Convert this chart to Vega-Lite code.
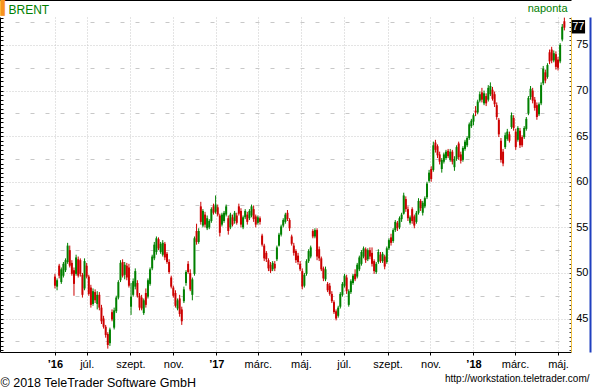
{
"$schema": "https://vega.github.io/schema/vega-lite/v6.json",
"width": 571, "height": 335,
"autosize": "none",
"padding": {"left": 0, "top": 17, "right": 21, "bottom": 38},
"background": "white",
"config": {"view": {"stroke": null}, "font": "Liberation Sans"},
"datasets": {
"last": [{"d": "2018-05-10", "v": 77}],
"brent": [
{"d":"2016-05-17","o":49.6,"h":49.9,"l":48.3,"c":48.6},
{"d":"2016-05-20","o":48.5,"h":49.4,"l":48.1,"c":49.2},
{"d":"2016-05-23","o":50.8,"h":51.0,"l":49.4,"c":49.7},
{"d":"2016-05-26","o":49.0,"h":50.6,"l":48.8,"c":50.4},
{"d":"2016-05-29","o":49.7,"h":51.2,"l":49.5,"c":51.0},
{"d":"2016-06-01","o":50.3,"h":51.6,"l":50.1,"c":51.4},
{"d":"2016-06-04","o":51.2,"h":53.3,"l":51.0,"c":53.0},
{"d":"2016-06-07","o":52.5,"h":53.0,"l":50.6,"c":50.8},
{"d":"2016-06-10","o":51.1,"h":51.4,"l":49.7,"c":49.9},
{"d":"2016-06-13","o":50.3,"h":50.6,"l":47.5,"c":48.8},
{"d":"2016-06-16","o":49.9,"h":52.0,"l":49.7,"c":51.7},
{"d":"2016-06-19","o":51.5,"h":51.8,"l":49.5,"c":49.7},
{"d":"2016-06-22","o":51.4,"h":51.6,"l":49.6,"c":49.9},
{"d":"2016-06-25","o":49.8,"h":50.0,"l":47.3,"c":47.6},
{"d":"2016-06-28","o":48.3,"h":51.6,"l":48.1,"c":51.3},
{"d":"2016-07-01","o":50.8,"h":51.1,"l":49.4,"c":49.6},
{"d":"2016-07-04","o":49.6,"h":49.8,"l":47.5,"c":47.7},
{"d":"2016-07-07","o":48.4,"h":48.7,"l":46.2,"c":46.5},
{"d":"2016-07-10","o":46.6,"h":48.3,"l":46.4,"c":48.0},
{"d":"2016-07-13","o":47.9,"h":48.2,"l":46.7,"c":47.0},
{"d":"2016-07-16","o":46.6,"h":48.0,"l":46.0,"c":47.6},
{"d":"2016-07-19","o":47.6,"h":47.9,"l":45.9,"c":46.2},
{"d":"2016-07-22","o":46.2,"h":46.5,"l":44.4,"c":44.7},
{"d":"2016-07-25","o":45.0,"h":45.3,"l":43.9,"c":44.1},
{"d":"2016-07-28","o":44.1,"h":44.3,"l":42.9,"c":43.2},
{"d":"2016-07-31","o":43.3,"h":43.5,"l":41.7,"c":42.1},
{"d":"2016-08-03","o":42.3,"h":44.0,"l":42.0,"c":43.8},
{"d":"2016-08-06","o":45.7,"h":46.0,"l":44.7,"c":44.9},
{"d":"2016-08-09","o":44.0,"h":46.2,"l":43.8,"c":45.9},
{"d":"2016-08-12","o":45.8,"h":47.5,"l":45.6,"c":47.3},
{"d":"2016-08-15","o":47.3,"h":49.2,"l":47.1,"c":49.0},
{"d":"2016-08-18","o":49.2,"h":51.4,"l":49.0,"c":51.1},
{"d":"2016-08-21","o":51.2,"h":51.5,"l":49.5,"c":49.7},
{"d":"2016-08-24","o":49.8,"h":51.2,"l":49.3,"c":50.9},
{"d":"2016-08-27","o":50.8,"h":51.1,"l":49.2,"c":49.5},
{"d":"2016-08-30","o":50.6,"h":51.0,"l":48.4,"c":48.6},
{"d":"2016-09-02","o":46.3,"h":48.9,"l":45.4,"c":47.4},
{"d":"2016-09-05","o":47.6,"h":49.4,"l":47.4,"c":49.1},
{"d":"2016-09-08","o":48.5,"h":50.5,"l":48.2,"c":50.2},
{"d":"2016-09-11","o":48.9,"h":49.2,"l":47.3,"c":47.5},
{"d":"2016-09-14","o":47.5,"h":47.8,"l":45.9,"c":46.2},
{"d":"2016-09-17","o":47.3,"h":47.6,"l":45.9,"c":46.1},
{"d":"2016-09-20","o":45.6,"h":47.2,"l":45.4,"c":47.0},
{"d":"2016-09-23","o":47.8,"h":48.3,"l":46.2,"c":46.5},
{"d":"2016-09-26","o":47.4,"h":49.4,"l":47.2,"c":49.2},
{"d":"2016-09-29","o":48.8,"h":50.6,"l":48.6,"c":50.4},
{"d":"2016-10-02","o":50.5,"h":52.0,"l":50.3,"c":51.8},
{"d":"2016-10-05","o":51.6,"h":53.4,"l":51.4,"c":53.1},
{"d":"2016-10-08","o":52.3,"h":54.0,"l":52.0,"c":53.8},
{"d":"2016-10-11","o":53.7,"h":53.9,"l":52.5,"c":52.7},
{"d":"2016-10-14","o":52.3,"h":53.4,"l":52.1,"c":53.2},
{"d":"2016-10-17","o":52.0,"h":53.6,"l":51.8,"c":53.3},
{"d":"2016-10-20","o":53.2,"h":53.4,"l":51.4,"c":51.7},
{"d":"2016-10-23","o":52.1,"h":52.3,"l":51.0,"c":51.2},
{"d":"2016-10-26","o":51.2,"h":51.5,"l":49.9,"c":50.1},
{"d":"2016-10-29","o":49.5,"h":49.7,"l":48.3,"c":48.5},
{"d":"2016-11-01","o":48.4,"h":48.6,"l":47.3,"c":47.5},
{"d":"2016-11-04","o":47.8,"h":48.1,"l":46.2,"c":46.4},
{"d":"2016-11-07","o":46.1,"h":47.2,"l":45.9,"c":47.0},
{"d":"2016-11-10","o":47.2,"h":47.6,"l":45.2,"c":45.5},
{"d":"2016-11-13","o":46.0,"h":46.3,"l":44.3,"c":44.7},
{"d":"2016-11-16","o":46.9,"h":48.5,"l":46.7,"c":48.2},
{"d":"2016-11-19","o":48.9,"h":50.3,"l":48.6,"c":50.1},
{"d":"2016-11-22","o":51.0,"h":51.3,"l":49.9,"c":50.1},
{"d":"2016-11-25","o":50.0,"h":50.4,"l":48.0,"c":48.2},
{"d":"2016-11-28","o":47.6,"h":49.5,"l":47.0,"c":49.3},
{"d":"2016-12-01","o":49.9,"h":54.0,"l":49.7,"c":53.8},
{"d":"2016-12-04","o":54.6,"h":55.4,"l":53.1,"c":53.4},
{"d":"2016-12-07","o":53.4,"h":54.9,"l":53.2,"c":54.6},
{"d":"2016-12-10","o":57.3,"h":57.8,"l":55.3,"c":55.6},
{"d":"2016-12-13","o":55.2,"h":57.0,"l":55.0,"c":56.8},
{"d":"2016-12-16","o":56.4,"h":56.7,"l":55.0,"c":55.3},
{"d":"2016-12-19","o":54.9,"h":56.3,"l":54.7,"c":56.0},
{"d":"2016-12-22","o":55.0,"h":55.9,"l":54.8,"c":55.7},
{"d":"2016-12-25","o":55.7,"h":57.2,"l":55.5,"c":57.0},
{"d":"2016-12-28","o":57.3,"h":57.6,"l":56.4,"c":56.6},
{"d":"2016-12-31","o":56.7,"h":58.5,"l":56.5,"c":57.5},
{"d":"2017-01-03","o":57.2,"h":57.5,"l":56.2,"c":56.4},
{"d":"2017-01-06","o":56.3,"h":56.5,"l":54.0,"c":54.4},
{"d":"2017-01-09","o":55.3,"h":56.6,"l":55.1,"c":56.4},
{"d":"2017-01-12","o":55.7,"h":56.8,"l":55.5,"c":56.6},
{"d":"2017-01-15","o":56.4,"h":57.5,"l":56.2,"c":57.3},
{"d":"2017-01-18","o":56.0,"h":56.3,"l":54.2,"c":54.6},
{"d":"2017-01-21","o":55.0,"h":56.6,"l":54.8,"c":56.4},
{"d":"2017-01-24","o":56.1,"h":56.4,"l":55.1,"c":55.3},
{"d":"2017-01-27","o":55.7,"h":56.8,"l":55.4,"c":56.6},
{"d":"2017-01-30","o":56.3,"h":56.6,"l":55.3,"c":55.5},
{"d":"2017-02-02","o":57.3,"h":57.6,"l":56.3,"c":56.5},
{"d":"2017-02-05","o":56.8,"h":57.1,"l":55.0,"c":55.3},
{"d":"2017-02-08","o":55.0,"h":56.3,"l":54.8,"c":56.1},
{"d":"2017-02-11","o":56.1,"h":57.0,"l":55.9,"c":56.8},
{"d":"2017-02-14","o":56.4,"h":56.7,"l":55.3,"c":55.6},
{"d":"2017-02-17","o":56.0,"h":57.0,"l":55.8,"c":56.8},
{"d":"2017-02-20","o":56.3,"h":57.5,"l":56.1,"c":57.3},
{"d":"2017-02-23","o":57.0,"h":57.4,"l":55.6,"c":55.9},
{"d":"2017-02-26","o":56.2,"h":56.4,"l":55.0,"c":55.3},
{"d":"2017-03-01","o":55.5,"h":56.3,"l":55.3,"c":56.1},
{"d":"2017-03-04","o":56.0,"h":56.2,"l":55.3,"c":55.6},
{"d":"2017-03-07","o":54.1,"h":54.3,"l":52.9,"c":53.1},
{"d":"2017-03-10","o":53.0,"h":53.2,"l":51.3,"c":51.6},
{"d":"2017-03-13","o":52.2,"h":52.4,"l":51.2,"c":51.5},
{"d":"2017-03-16","o":51.4,"h":51.6,"l":50.2,"c":50.5},
{"d":"2017-03-19","o":50.9,"h":51.2,"l":50.0,"c":50.2},
{"d":"2017-03-22","o":50.4,"h":51.3,"l":50.2,"c":51.1},
{"d":"2017-03-25","o":51.0,"h":51.3,"l":50.2,"c":50.5},
{"d":"2017-03-28","o":51.5,"h":53.0,"l":51.3,"c":52.8},
{"d":"2017-03-31","o":53.0,"h":54.4,"l":52.9,"c":54.2},
{"d":"2017-04-03","o":54.2,"h":55.3,"l":54.0,"c":55.1},
{"d":"2017-04-06","o":55.2,"h":56.0,"l":55.0,"c":55.8},
{"d":"2017-04-09","o":55.6,"h":56.6,"l":55.4,"c":56.4},
{"d":"2017-04-12","o":56.6,"h":56.9,"l":55.7,"c":55.9},
{"d":"2017-04-15","o":55.8,"h":56.0,"l":54.6,"c":54.9},
{"d":"2017-04-18","o":54.0,"h":54.2,"l":53.0,"c":53.2},
{"d":"2017-04-21","o":53.0,"h":53.3,"l":51.9,"c":52.2},
{"d":"2017-04-24","o":52.4,"h":52.6,"l":51.1,"c":51.4},
{"d":"2017-04-27","o":51.9,"h":52.2,"l":50.9,"c":51.2},
{"d":"2017-04-30","o":51.0,"h":51.3,"l":50.2,"c":50.4},
{"d":"2017-05-03","o":50.2,"h":50.5,"l":48.2,"c":48.5},
{"d":"2017-05-06","o":48.6,"h":50.0,"l":48.4,"c":49.8},
{"d":"2017-05-09","o":49.9,"h":51.5,"l":49.7,"c":51.3},
{"d":"2017-05-12","o":51.3,"h":52.6,"l":51.1,"c":52.4},
{"d":"2017-05-15","o":51.8,"h":53.0,"l":51.6,"c":52.8},
{"d":"2017-05-18","o":54.6,"h":54.8,"l":53.8,"c":54.0},
{"d":"2017-05-21","o":54.0,"h":54.9,"l":53.8,"c":54.7},
{"d":"2017-05-24","o":54.7,"h":54.9,"l":51.4,"c":51.8},
{"d":"2017-05-27","o":52.6,"h":52.9,"l":51.3,"c":51.6},
{"d":"2017-05-30","o":51.6,"h":51.8,"l":50.2,"c":50.4},
{"d":"2017-06-02","o":50.5,"h":50.7,"l":49.1,"c":49.4},
{"d":"2017-06-05","o":49.3,"h":50.7,"l":49.1,"c":50.4},
{"d":"2017-06-08","o":48.8,"h":49.0,"l":47.9,"c":48.1},
{"d":"2017-06-11","o":48.6,"h":48.9,"l":47.5,"c":47.7},
{"d":"2017-06-14","o":47.7,"h":48.0,"l":46.7,"c":46.9},
{"d":"2017-06-17","o":46.8,"h":47.0,"l":45.5,"c":45.7},
{"d":"2017-06-20","o":45.8,"h":46.0,"l":44.8,"c":45.0},
{"d":"2017-06-23","o":45.3,"h":46.4,"l":45.1,"c":46.2},
{"d":"2017-06-26","o":46.3,"h":47.9,"l":46.1,"c":47.7},
{"d":"2017-06-29","o":47.6,"h":49.0,"l":47.4,"c":48.8},
{"d":"2017-07-02","o":48.6,"h":49.9,"l":48.4,"c":49.7},
{"d":"2017-07-05","o":49.5,"h":49.8,"l":47.7,"c":48.0},
{"d":"2017-07-08","o":46.5,"h":48.2,"l":46.3,"c":48.0},
{"d":"2017-07-11","o":47.9,"h":49.3,"l":47.7,"c":49.1},
{"d":"2017-07-14","o":48.9,"h":49.9,"l":48.7,"c":49.7},
{"d":"2017-07-17","o":49.9,"h":50.4,"l":49.1,"c":49.3},
{"d":"2017-07-20","o":49.6,"h":51.1,"l":49.4,"c":50.9},
{"d":"2017-07-23","o":50.4,"h":51.9,"l":50.2,"c":51.7},
{"d":"2017-07-26","o":51.0,"h":52.5,"l":50.8,"c":52.3},
{"d":"2017-07-29","o":51.8,"h":52.9,"l":51.6,"c":52.7},
{"d":"2017-08-01","o":52.6,"h":52.8,"l":51.1,"c":51.4},
{"d":"2017-08-04","o":51.5,"h":52.7,"l":51.3,"c":52.5},
{"d":"2017-08-07","o":52.5,"h":52.8,"l":51.5,"c":51.8},
{"d":"2017-08-10","o":52.2,"h":52.8,"l":50.7,"c":51.0},
{"d":"2017-08-13","o":51.3,"h":51.5,"l":49.9,"c":50.2},
{"d":"2017-08-16","o":50.1,"h":51.2,"l":49.9,"c":51.0},
{"d":"2017-08-19","o":51.2,"h":52.6,"l":51.0,"c":52.3},
{"d":"2017-08-22","o":52.0,"h":52.3,"l":51.1,"c":51.3},
{"d":"2017-08-25","o":51.3,"h":52.3,"l":51.1,"c":52.1},
{"d":"2017-08-28","o":51.8,"h":52.0,"l":50.4,"c":50.7},
{"d":"2017-08-31","o":51.2,"h":52.9,"l":51.0,"c":52.7},
{"d":"2017-09-03","o":52.7,"h":53.8,"l":52.5,"c":53.6},
{"d":"2017-09-06","o":53.9,"h":54.3,"l":53.0,"c":53.3},
{"d":"2017-09-09","o":53.5,"h":54.9,"l":53.3,"c":54.7},
{"d":"2017-09-12","o":54.7,"h":55.8,"l":54.5,"c":55.6},
{"d":"2017-09-15","o":55.5,"h":55.7,"l":54.6,"c":54.9},
{"d":"2017-09-18","o":55.0,"h":56.2,"l":54.8,"c":56.0},
{"d":"2017-09-21","o":55.9,"h":56.6,"l":55.6,"c":56.4},
{"d":"2017-09-24","o":56.5,"h":58.8,"l":56.4,"c":58.5},
{"d":"2017-09-27","o":58.1,"h":58.4,"l":56.7,"c":57.0},
{"d":"2017-09-30","o":57.0,"h":57.3,"l":55.7,"c":56.0},
{"d":"2017-10-03","o":55.5,"h":56.3,"l":55.3,"c":56.1},
{"d":"2017-10-06","o":57.0,"h":57.2,"l":55.4,"c":55.7},
{"d":"2017-10-09","o":56.2,"h":56.4,"l":54.9,"c":55.2},
{"d":"2017-10-12","o":55.6,"h":56.8,"l":55.4,"c":56.6},
{"d":"2017-10-15","o":56.6,"h":58.2,"l":56.4,"c":57.9},
{"d":"2017-10-18","o":57.9,"h":58.1,"l":56.8,"c":57.1},
{"d":"2017-10-21","o":56.6,"h":57.9,"l":56.3,"c":57.7},
{"d":"2017-10-24","o":57.3,"h":58.4,"l":57.1,"c":58.2},
{"d":"2017-10-27","o":58.3,"h":60.0,"l":58.1,"c":59.8},
{"d":"2017-10-30","o":60.1,"h":61.3,"l":59.9,"c":61.0},
{"d":"2017-11-02","o":61.4,"h":61.7,"l":60.0,"c":60.3},
{"d":"2017-11-05","o":61.3,"h":64.4,"l":61.1,"c":64.0},
{"d":"2017-11-08","o":64.3,"h":64.6,"l":63.2,"c":63.5},
{"d":"2017-11-11","o":63.9,"h":64.1,"l":62.6,"c":62.9},
{"d":"2017-11-14","o":63.0,"h":63.3,"l":61.9,"c":62.2},
{"d":"2017-11-17","o":61.4,"h":62.6,"l":61.0,"c":62.4},
{"d":"2017-11-20","o":62.2,"h":63.2,"l":62.0,"c":63.0},
{"d":"2017-11-23","o":62.6,"h":63.5,"l":62.4,"c":63.3},
{"d":"2017-11-26","o":63.4,"h":63.6,"l":62.6,"c":62.8},
{"d":"2017-11-29","o":62.4,"h":63.6,"l":62.2,"c":63.3},
{"d":"2017-12-02","o":63.3,"h":63.5,"l":61.9,"c":62.2},
{"d":"2017-12-05","o":61.6,"h":62.8,"l":61.2,"c":62.5},
{"d":"2017-12-08","o":62.5,"h":64.0,"l":62.3,"c":63.8},
{"d":"2017-12-11","o":64.2,"h":64.4,"l":62.4,"c":62.7},
{"d":"2017-12-14","o":63.0,"h":63.3,"l":62.0,"c":62.3},
{"d":"2017-12-17","o":62.4,"h":63.9,"l":62.2,"c":63.7},
{"d":"2017-12-20","o":63.6,"h":64.6,"l":63.4,"c":64.4},
{"d":"2017-12-23","o":64.0,"h":65.0,"l":63.8,"c":64.8},
{"d":"2017-12-26","o":64.8,"h":66.5,"l":64.6,"c":66.3},
{"d":"2017-12-29","o":66.1,"h":66.9,"l":65.9,"c":66.7},
{"d":"2018-01-01","o":66.6,"h":67.5,"l":66.2,"c":67.3},
{"d":"2018-01-04","o":67.8,"h":68.3,"l":67.2,"c":67.6},
{"d":"2018-01-07","o":67.6,"h":69.0,"l":67.4,"c":68.8},
{"d":"2018-01-10","o":68.9,"h":69.9,"l":68.7,"c":69.6},
{"d":"2018-01-13","o":69.8,"h":70.3,"l":68.7,"c":69.0},
{"d":"2018-01-16","o":68.6,"h":70.0,"l":68.4,"c":69.7},
{"d":"2018-01-19","o":69.4,"h":69.7,"l":68.3,"c":68.6},
{"d":"2018-01-22","o":69.0,"h":70.6,"l":68.8,"c":70.3},
{"d":"2018-01-25","o":69.6,"h":70.9,"l":69.4,"c":70.5},
{"d":"2018-01-28","o":70.1,"h":70.4,"l":68.9,"c":69.1},
{"d":"2018-01-31","o":69.6,"h":69.9,"l":68.2,"c":68.5},
{"d":"2018-02-03","o":68.4,"h":68.7,"l":66.8,"c":67.1},
{"d":"2018-02-06","o":66.8,"h":67.0,"l":64.9,"c":65.2},
{"d":"2018-02-09","o":64.5,"h":64.8,"l":62.1,"c":62.4},
{"d":"2018-02-12","o":63.3,"h":63.6,"l":61.7,"c":62.0},
{"d":"2018-02-15","o":63.8,"h":65.4,"l":63.6,"c":65.1},
{"d":"2018-02-18","o":64.7,"h":65.8,"l":64.5,"c":65.5},
{"d":"2018-02-21","o":65.2,"h":65.5,"l":64.3,"c":64.5},
{"d":"2018-02-24","o":66.0,"h":67.6,"l":65.8,"c":67.3},
{"d":"2018-02-27","o":67.0,"h":67.3,"l":65.6,"c":65.9},
{"d":"2018-03-02","o":65.5,"h":65.8,"l":63.5,"c":63.8},
{"d":"2018-03-05","o":64.6,"h":66.1,"l":64.4,"c":65.9},
{"d":"2018-03-08","o":65.6,"h":65.9,"l":63.7,"c":64.0},
{"d":"2018-03-11","o":64.9,"h":65.1,"l":63.8,"c":64.0},
{"d":"2018-03-14","o":64.9,"h":66.1,"l":64.7,"c":65.9},
{"d":"2018-03-17","o":65.8,"h":67.1,"l":65.6,"c":66.9},
{"d":"2018-03-20","o":67.5,"h":69.4,"l":67.3,"c":69.2},
{"d":"2018-03-23","o":69.3,"h":70.5,"l":69.0,"c":70.2},
{"d":"2018-03-26","o":70.0,"h":70.3,"l":68.6,"c":68.9},
{"d":"2018-03-29","o":69.0,"h":69.3,"l":67.8,"c":68.1},
{"d":"2018-04-01","o":68.4,"h":68.7,"l":66.8,"c":67.1},
{"d":"2018-04-04","o":67.4,"h":68.7,"l":67.2,"c":68.5},
{"d":"2018-04-07","o":68.6,"h":70.9,"l":68.4,"c":70.6},
{"d":"2018-04-10","o":70.8,"h":72.7,"l":70.6,"c":72.4},
{"d":"2018-04-13","o":72.0,"h":72.3,"l":70.8,"c":71.1},
{"d":"2018-04-16","o":71.5,"h":73.0,"l":71.3,"c":72.8},
{"d":"2018-04-19","o":74.2,"h":74.5,"l":72.9,"c":73.2},
{"d":"2018-04-22","o":74.5,"h":74.8,"l":73.0,"c":73.3},
{"d":"2018-04-25","o":73.3,"h":74.4,"l":73.1,"c":74.1},
{"d":"2018-04-28","o":74.0,"h":74.3,"l":72.3,"c":72.6},
{"d":"2018-05-01","o":73.4,"h":73.7,"l":72.2,"c":72.5},
{"d":"2018-05-04","o":73.2,"h":75.2,"l":73.0,"c":75.0},
{"d":"2018-05-07","o":75.6,"h":77.3,"l":75.4,"c":77.0},
{"d":"2018-05-10","o":77.6,"h":78.0,"l":76.6,"c":76.9}
]
},
"resolve": {"axis": {"x": "independent", "y": "independent"}},
"layer": [
{
"data": {"name": "brent"},
"mark": {"type": "rule", "strokeWidth": 1},
"encoding": {
"x": {"field": "d", "type": "temporal",
 "scale": {"type": "utc", "nice": false, "domain": [{"year": 2016, "month": 2, "date": 29, "utc": true}, {"year": 2018, "month": 5, "date": 19, "hours": 10, "utc": true}]},
 "axis": {"orient": "bottom",
  "values": [{"year":2016,"month":5,"date":17,"utc":true},{"year":2016,"month":7,"date":1,"utc":true},{"year":2016,"month":9,"date":1,"utc":true},{"year":2016,"month":11,"date":1,"utc":true},{"year":2017,"month":1,"date":1,"utc":true},{"year":2017,"month":3,"date":1,"utc":true},{"year":2017,"month":5,"date":1,"utc":true},{"year":2017,"month":7,"date":1,"utc":true},{"year":2017,"month":9,"date":1,"utc":true},{"year":2017,"month":11,"date":1,"utc":true},{"year":2018,"month":1,"date":1,"utc":true},{"year":2018,"month":3,"date":1,"utc":true},{"year":2018,"month":5,"date":1,"utc":true}],
  "labelExpr": "(utcmonth(datum.value) == 0 || utcdate(datum.value) == 17) ? '’' + utcFormat(datum.value, '%y') : ['', '', 'márc.', '', 'máj.', '', 'júl.', '', 'szept.', '', 'nov.', ''][utcmonth(datum.value)]",
  "labelFontWeight": {"condition": {"test": "utcmonth(datum.value) == 0 || utcdate(datum.value) == 17", "value": "bold"}, "value": "normal"},
  "labelFont": "Liberation Sans", "labelFontSize": 11, "labelColor": "black",
  "labelBaseline": "alphabetic", "labelPadding": 12, "labelAlign": "center", "labelOverlap": false, "labelFlush": false, "labelBound": false,
  "domain": true, "domainColor": "black", "domainWidth": 1,
  "ticks": true, "tickColor": "black", "tickSize": 3,
  "grid": true, "gridColor": "#c8c8c8", "gridDash": [1, 2], "gridWidth": 1,
  "title": "© 2018 TeleTrader Software GmbH", "titleFont": "Liberation Sans", "titleFontSize": 12.5, "titleFontWeight": "normal", "titleColor": "black",
  "titleX": 0, "titleY": 34, "titleAlign": "left", "titleBaseline": "alphabetic", "titleAnchor": "start"}},
"y": {"field": "l", "type": "quantitative",
 "scale": {"domain": [41.33, 78.07], "nice": false, "zero": false},
 "axis": {"orient": "left",
  "values": [41.5,42,42.5,43,43.5,44,44.5,45,45.5,46,46.5,47,47.5,48,48.5,49,49.5,50,50.5,51,51.5,52,52.5,53,53.5,54,54.5,55,55.5,56,56.5,57,57.5,58,58.5,59,59.5,60,60.5,61,61.5,62,62.5,63,63.5,64,64.5,65,65.5,66,66.5,67,67.5,68,68.5,69,69.5,70,70.5,71,71.5,72,72.5,73,73.5,74,74.5,75,75.5,76,76.5,77,77.5,78],
  "labels": false,
  "domain": true, "domainColor": "black", "domainWidth": 1,
  "ticks": true, "tickColor": "black", "tickSize": -3,
  "grid": true, "gridColor": "#c8c8c8", "gridWidth": 1,
  "gridDash": {"condition": {"test": "datum.value % 5 === 0", "value": [1, 2]}, "value": [4, 11]},
  "gridOpacity": {"condition": {"test": "datum.value % 2.5 === 0", "value": 1}, "value": 0},
  "title": "▌", "titleColor": "#f7941d", "titleFont": "DejaVu Sans Mono", "titleFontSize": 14.5, "titleFontWeight": "normal",
  "titleAngle": 0, "titleX": 0, "titleY": -17, "titleAlign": "left", "titleBaseline": "top"}},
"y2": {"field": "h"},
"color": {"condition": {"test": "datum.c >= datum.o", "value": "#008000"}, "value": "#cc0000"}
}
},
{
"data": {"name": "brent"},
"mark": {"type": "rule", "strokeWidth": 2},
"encoding": {
"x": {"field": "d", "type": "temporal",
 "scale": {"type": "utc", "nice": false, "domain": [{"year": 2016, "month": 2, "date": 29, "utc": true}, {"year": 2018, "month": 5, "date": 19, "hours": 10, "utc": true}]},
 "axis": {"orient": "top", "offset": 17, "domain": true, "domainColor": "black", "ticks": false, "labels": false, "grid": false,
  "title": "naponta", "titleFont": "Liberation Sans", "titleColor": "#008000", "titleFontSize": 11, "titleFontWeight": "normal",
  "titleX": 567, "titleY": 11, "titleAlign": "right", "titleBaseline": "alphabetic"}},
"y": {"field": "o", "type": "quantitative",
 "scale": {"domain": [41.33, 78.07], "nice": false, "zero": false},
 "axis": {"orient": "right", "offset": 19, "values": [45, 50, 55, 60, 65, 70, 75],
  "domain": true, "domainColor": "#1f3fbf", "domainWidth": 2,
  "ticks": true, "tickSize": 0, "tickOpacity": 0,
  "labels": true, "labelPadding": -2, "labelAlign": "right", "labelBaseline": "middle",
  "labelFont": "Liberation Sans", "labelFontSize": 11, "labelColor": "black",
  "grid": false, "title": null}},
"y2": {"field": "c"},
"color": {"condition": {"test": "datum.c >= datum.o", "value": "#008000"}, "value": "#cc0000"}
}
},
{
"data": {"name": "last"},
"mark": {"type": "point", "shape": "square", "filled": true, "color": "black", "opacity": 1, "size": 180, "xOffset": 14},
"encoding": {
"x": {"field": "d", "type": "temporal",
 "scale": {"type": "utc", "nice": false, "domain": [{"year": 2016, "month": 2, "date": 29, "utc": true}, {"year": 2018, "month": 5, "date": 19, "hours": 10, "utc": true}]},
 "axis": {"orient": "bottom", "domain": false, "ticks": false, "labels": false, "grid": false,
  "title": "http://workstation.teletrader.com/", "titleFont": "Liberation Sans", "titleFontSize": 10, "titleFontWeight": "normal", "titleColor": "black",
  "titleX": 589, "titleY": 29, "titleAlign": "right", "titleBaseline": "alphabetic"}},
"y": {"field": "v", "type": "quantitative",
 "scale": {"domain": [41.33, 78.07], "nice": false, "zero": false},
 "axis": {"orient": "right", "offset": 0,
  "values": [41.5,42,42.5,43,43.5,44,44.5,45,45.5,46,46.5,47,47.5,48,48.5,49,49.5,50,50.5,51,51.5,52,52.5,53,53.5,54,54.5,55,55.5,56,56.5,57,57.5,58,58.5,59,59.5,60,60.5,61,61.5,62,62.5,63,63.5,64,64.5,65,65.5,66,66.5,67,67.5,68,68.5,69,69.5,70,70.5,71,71.5,72,72.5,73,73.5,74,74.5,75,75.5,76,76.5,77,77.5,78],
  "domain": true, "domainColor": "#f0c040", "domainWidth": 1,
  "ticks": true, "tickSize": -2, "tickColor": "#333333",
  "labels": false, "grid": false, "title": null}}
}
},
{
"data": {"name": "last"},
"mark": {"type": "text", "color": "white", "font": "Liberation Sans", "fontSize": 11, "dx": 14, "align": "center", "baseline": "middle"},
"encoding": {
"x": {"field": "d", "type": "temporal",
 "scale": {"type": "utc", "nice": false, "domain": [{"year": 2016, "month": 2, "date": 29, "utc": true}, {"year": 2018, "month": 5, "date": 19, "hours": 10, "utc": true}]},
 "axis": {"orient": "top", "offset": 17, "domain": false, "ticks": false, "labels": false, "grid": false,
  "title": "BRENT", "titleFont": "Liberation Sans", "titleColor": "#008000", "titleFontSize": 12, "titleFontWeight": "normal",
  "titleX": 8, "titleY": 13, "titleAlign": "left", "titleBaseline": "alphabetic"}},
"y": {"field": "v", "type": "quantitative",
 "scale": {"domain": [41.33, 78.07], "nice": false, "zero": false},
 "axis": null},
"text": {"field": "v", "type": "quantitative"}
}
}
]
}
